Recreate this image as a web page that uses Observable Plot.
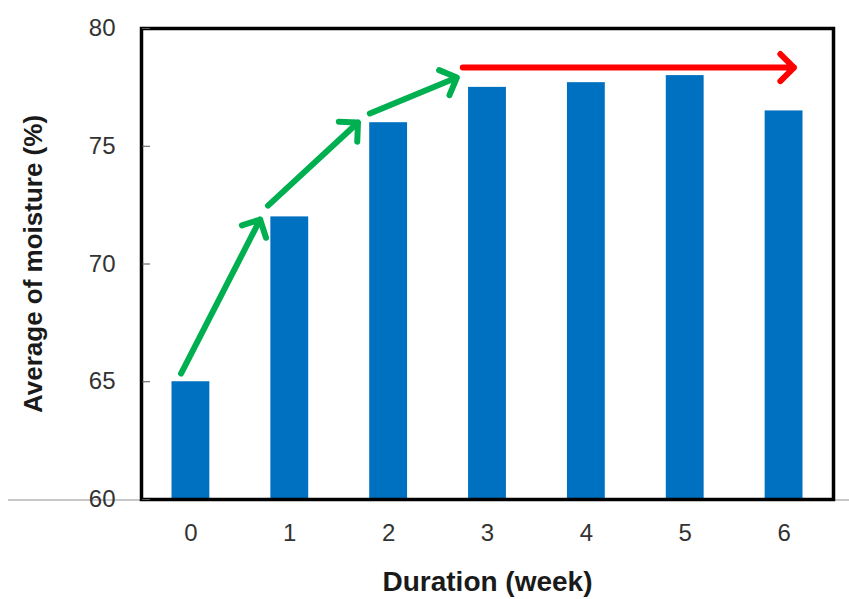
<!DOCTYPE html>
<html>
<head>
<meta charset="utf-8">
<script src="https://cdn.jsdelivr.net/npm/d3@7"></script>
<script src="https://cdn.jsdelivr.net/npm/@observablehq/plot@0.6"></script>
<style>
  html, body { margin: 0; padding: 0; background: #fff; }
  #wrap { position: relative; width: 849px; height: 599px; }
  #baseline { position: absolute; left: 8px; width: 841px; top: 499px; height: 0; border-top: 2px solid #c8c8c8; }
  #wrap svg { font-family: "Liberation Sans", Arial, sans-serif; }
  #wrap svg text.tick { font-size: 24px !important; fill: #333; }
  #wrap svg text.title { font-size: 26px !important; font-weight: bold; fill: #1a1a1a; }
  #wrap svg text.title.xt { font-size: 28px !important; }
</style>
</head>
<body>
<div id="wrap"><div id="baseline"></div></div>
<script>
// Data
const weeks = [0, 1, 2, 3, 4, 5, 6];
const moisture = [65, 72, 76, 77.5, 77.7, 78, 76.5];
const yTicks = [60, 65, 70, 75, 80];
const xTitle = "Duration (week)";
const yTitle = "Average of moisture (%)";

// Trend arrows (data coordinates: week, moisture %)
const greenX1 = [-0.10, 0.78, 1.81];
const greenY1 = [65.35, 72.48, 76.39];
const greenX2 = [0.70, 1.69, 2.69];
const greenY2 = [71.89, 76.01, 77.92];
const redX1 = [2.75];
const redY1 = [78.34];
const redX2 = [6.10];
const redY2 = [78.34];

const bars = weeks.map((w, i) => ({week: w, value: moisture[i]}));
const green = greenX1.map((d, i) => ({x1: d, y1: greenY1[i], x2: greenX2[i], y2: greenY2[i]}));
const red = redX1.map((d, i) => ({x1: d, y1: redY1[i], x2: redX2[i], y2: redY2[i]}));

const chart = Plot.plot({
  width: 849,
  height: 599,
  marginLeft: 141,
  marginRight: 16,
  marginTop: 28,
  marginBottom: 100,
  style: {background: "transparent", fontFamily: "'Liberation Sans', Arial, sans-serif"},
  x: {domain: [-0.5, 6.5]},
  y: {domain: [60, 80]},
  marks: [
    Plot.rectY(bars, {x1: d => d.week - 0.5, x2: d => d.week + 0.5, y1: 60, y2: "value", fill: "#0070C0", insetLeft: 30.5, insetRight: 30.5}),
    Plot.arrow(green, {x1: "x1", y1: "y1", x2: "x2", y2: "y2", stroke: "#00B050", strokeWidth: 6, headLength: 4.8, headAngle: 90, bend: 0}),
    Plot.arrow(red, {x1: "x1", y1: "y1", x2: "x2", y2: "y2", stroke: "#FF0000", strokeWidth: 6, headLength: 4.8, headAngle: 90, bend: 0}),
    Plot.frame({stroke: "#000", strokeWidth: 3.5}),
    Plot.axisY(yTicks, {tickSize: 0, tickPadding: 26, label: yTitle, labelAnchor: "center", labelArrow: "none", labelOffset: 118}),
    Plot.axisY(yTicks, {text: null, tickSize: 8, dx: 9, stroke: "#555", label: null}),
    Plot.axisX(weeks, {tickSize: 0, tickPadding: 24, label: xTitle, labelAnchor: "center", labelArrow: "none", labelOffset: 91})
  ]
});

chart.querySelectorAll("text").forEach(t => {
  const s = t.textContent.trim();
  if (s === xTitle) t.classList.add("title", "xt");
  else if (s === yTitle) t.classList.add("title");
  else t.classList.add("tick");
});
chart.style.position = "absolute";
chart.style.left = "0";
chart.style.top = "0";
document.getElementById("wrap").appendChild(chart);
</script>
</body>
</html>
